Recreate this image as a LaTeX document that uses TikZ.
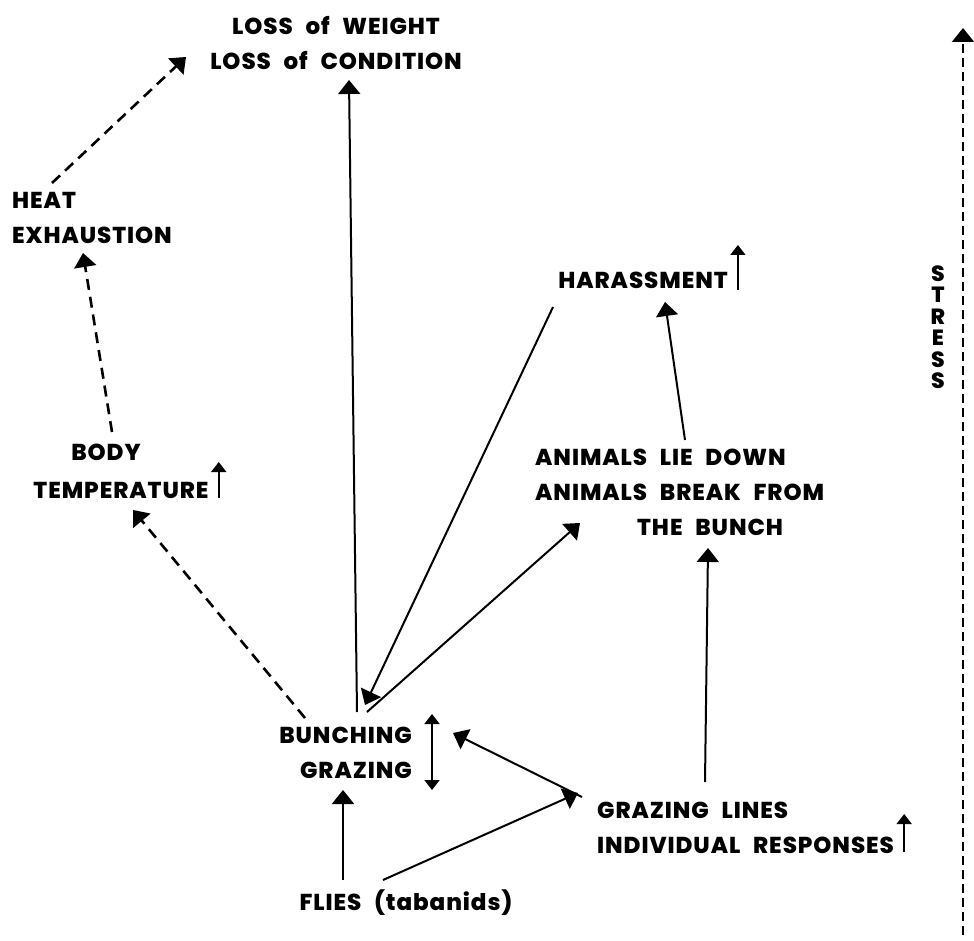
\documentclass[tikz,border=0pt]{standalone}
\usepackage{fontspec}
\setmainfont{Poppins}[BoldFont={Poppins ExtraBold}, LetterSpace=4, WordSpace=2.4]
\usepackage{tikz}
\usetikzlibrary{arrows.meta}

\tikzset{
  lbl/.style={inner sep=0pt, font=\bfseries\fontsize{23}{35}\selectfont},
  link/.style={-{Triangle[length=14pt, width=22pt]}, line width=2pt},
  dlink/.style={-{Triangle[length=14pt, width=22pt]}, line width=2.6pt, dash pattern=on 11pt off 7pt},
  rise/.style={-{Triangle[length=10pt, width=15pt]}, line width=1.7pt},
}

\begin{document}
\begin{tikzpicture}[x=1pt, y=-1pt]
  \useasboundingbox[fill=white] (0,0) rectangle (974,941);

  % labels
  \node[lbl, align=center] (loss) at (336,43) {LOSS of WEIGHT\\LOSS of CONDITION};
  \node[lbl, align=left, anchor=west] (heat) at (12,218) {HEAT\\EXHAUSTION};
  \node[lbl] (harass) at (643,280) {HARASSMENT};
  \node[lbl] (body) at (106,452) {BODY};
  \node[lbl] (temp) at (121,490) {TEMPERATURE};
  \node[lbl, align=left, anchor=west] (animals) at (535,492) {ANIMALS LIE DOWN\\ANIMALS BREAK FROM\\\hspace*{102pt}THE BUNCH};
  \node[lbl, align=right, anchor=east] (bunch) at (412,753) {BUNCHING\\GRAZING};
  \node[lbl, align=left, anchor=west] (glines) at (597,828) {GRAZING LINES\\INDIVIDUAL RESPONSES};
  \node[lbl] (flies) at (406,903) {FLIES (tabanids)};
  \node[lbl, align=center, font=\bfseries\fontsize{22}{21.5}\selectfont] (stress) at (938,327) {S\\T\\R\\E\\S\\S};

  % stress axis
  \coordinate (sbot) at (963,935);
  \coordinate (stop) at (963,28);
  \draw[dlink, dash pattern=on 9pt off 5pt, line width=2.2pt] (sbot) -- (stop);

  % small "increase" arrows
  \draw[rise] ([shift={(10,10)}]harass.east) -- ++(0,-45);
  \draw[rise] ([shift={(10,8)}]temp.east) -- ++(0,-36);
  \draw[rise] ([shift={(20,-15)}]bunch.east) -- ++(0,-24);
  \draw[rise] ([shift={(20,-15)}]bunch.east) -- ++(0,52);
  \draw[rise] ([shift={(10,-2)}]glines.south east) -- ++(0,-38);

  % connectors
  \draw[dlink] ([shift={(40,-35)}]heat.west) -- ([shift={(-150,14)}]loss.center);
  \draw[link] ([shift={(-55,-41)}]bunch.east) -- ([shift={(13,37)}]loss.center);
  \draw[dlink] ([shift={(6,-20)}]body.center) -- ([shift={(71,35)}]heat.west);
  \draw[dlink] ([shift={(-107,-35)}]bunch.east) -- ([shift={(12,20)}]temp.center);
  \draw[link] ([shift={(-90,27)}]harass.center) -- ([shift={(-47,-48)}]bunch.east);
  \draw[link] ([shift={(-45,-41)}]bunch.east) -- ([shift={(45,31)}]animals.west);
  \draw[link] ([shift={(150,-52)}]animals.west) -- ([shift={(22,22)}]harass.center);
  \draw[link] ([shift={(108,-46)}]glines.west) -- ([shift={(173,56)}]animals.west);
  \draw[link] ([shift={(-15,-31)}]glines.west) -- ([shift={(41,-20)}]bunch.east);
  \draw[link] ([shift={(-63,-23)}]flies.center) -- ([shift={(-69,37)}]bunch.east);
  \draw[link] ([shift={(-23,-23)}]flies.center) -- ([shift={(-19,-35)}]glines.west);
\end{tikzpicture}
\end{document}
